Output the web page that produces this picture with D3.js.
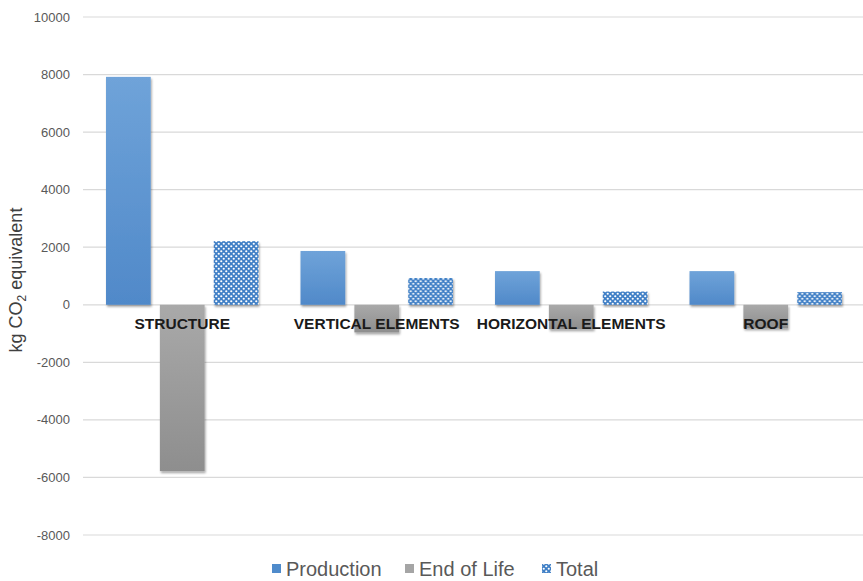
<!DOCTYPE html>
<html>
<head>
<meta charset="utf-8">
<script src="https://cdn.jsdelivr.net/npm/d3@7"></script>
<style>
  body { margin: 0; background: #fff; }
  text { font-family: "Liberation Sans", Arial, sans-serif; }
</style>
</head>
<body>
<svg id="chart" width="863" height="581"></svg>
<script>
const categories = ['STRUCTURE', 'VERTICAL ELEMENTS', 'HORIZONTAL ELEMENTS', 'ROOF'];
const series = ['Production', 'End of Life', 'Total'];
const production = [7920, 1870, 1170, 1170];
const endOfLife = [-5780, -960, -850, -820];
const total = [2210, 930, 460, 440];
const yTicks = [-8000, -6000, -4000, -2000, 0, 2000, 4000, 6000, 8000, 10000];

const width = 863,
    height = 581;
const plotLeft = 85, plotRight = 863, plotTop = 17, plotBottom = 535;

const svg = d3.select('#chart');
const defs = svg.append('defs');

// bar fills
const gBlue = defs.append('linearGradient').attr('id', 'gBlue')
    .attr('x1', 0).attr('y1', 0).attr('x2', 0).attr('y2', 1);
gBlue.append('stop').attr('offset', '0%').attr('stop-color', '#6fa3d9');
gBlue.append('stop').attr('offset', '100%').attr('stop-color', '#5089c9');

const gGray = defs.append('linearGradient').attr('id', 'gGray')
    .attr('x1', 0).attr('y1', 0).attr('x2', 0).attr('y2', 1);
gGray.append('stop').attr('offset', '0%').attr('stop-color', '#a9a9a9');
gGray.append('stop').attr('offset', '100%').attr('stop-color', '#8e8e8e');

const dots = defs.append('pattern').attr('id', 'dots')
    .attr('patternUnits', 'userSpaceOnUse')
    .attr('width', 5).attr('height', 5);
dots.append('rect').attr('width', 5).attr('height', 5).attr('fill', '#3f7fc6');
dots.append('circle').attr('cx', 1.25).attr('cy', 1.25).attr('r', 1.1).attr('fill', '#fff');
dots.append('circle').attr('cx', 3.75).attr('cy', 3.75).attr('r', 1.1).attr('fill', '#fff');

const shadow = defs.append('filter').attr('id', 'shadow')
    .attr('x', '-20%').attr('y', '-20%').attr('width', '140%').attr('height', '140%');
shadow.append('feDropShadow').attr('dx', 1).attr('dy', 2)
    .attr('stdDeviation', 1.2).attr('flood-color', '#000').attr('flood-opacity', 0.35);

const fills = {'Production': 'url(#gBlue)', 'End of Life': 'url(#gGray)', 'Total': 'url(#dots)'};

const x0 = d3.scaleBand().domain(categories).range([plotLeft, plotRight]);
const x1 = d3.scaleBand().domain(series).range([0, x0.bandwidth()])
    .paddingInner(0.17).paddingOuter(0.39);
const y = d3.scaleLinear().domain([-8000, 10000]).range([plotBottom, plotTop]);

// gridlines
svg.append('g')
    .selectAll('line').data(yTicks).join('line')
    .attr('x1', 83).attr('x2', plotRight)
    .attr('y1', d => y(d)).attr('y2', d => y(d))
    .attr('stroke', '#d9d9d9').attr('stroke-width', 1.2);

// y axis labels
svg.append('g')
    .selectAll('text').data(yTicks).join('text')
    .attr('x', 70).attr('y', d => y(d))
    .attr('dy', '0.35em')
    .attr('text-anchor', 'end')
    .attr('font-size', 13)
    .attr('fill', '#595959')
    .text(d => d);

// y axis title
const title = svg.append('text')
    .attr('transform', `translate(22,${(plotTop + plotBottom) / 2 + 4}) rotate(-90)`)
    .attr('text-anchor', 'middle')
    .attr('font-size', 18)
    .attr('fill', '#404040');
title.append('tspan').text('kg CO');
title.append('tspan').attr('font-size', 12).attr('dy', 4).text('2');
title.append('tspan').attr('dy', -4).text(' equivalent');

// bars
const rows = categories.map((c, i) => ({
    cat: c,
    vals: [production[i], endOfLife[i], total[i]]
}));

svg.append('g')
    .selectAll('g').data(rows).join('g')
    .attr('transform', d => `translate(${x0(d.cat)},0)`)
    .selectAll('rect').data(d => d.vals.map((v, j) => ({s: series[j], v})))
    .join('rect')
    .attr('x', d => x1(d.s))
    .attr('width', x1.bandwidth())
    .attr('y', d => y(Math.max(0, d.v)))
    .attr('height', d => Math.abs(y(d.v) - y(0)))
    .attr('fill', d => fills[d.s])
    .attr('filter', 'url(#shadow)');

// category labels (drawn over the bars)
svg.append('g')
    .selectAll('text').data(categories).join('text')
    .attr('x', d => x0(d) + x0.bandwidth() / 2)
    .attr('y', y(0) + 24)
    .attr('text-anchor', 'middle')
    .attr('font-size', 15.5)
    .attr('font-weight', 'bold')
    .attr('fill', '#1a1a1a')
    .text(d => d);

// legend
const legendX = [272, 405, 542];
const legend = svg.append('g');
series.forEach((s, i) => {
    legend.append('rect')
        .attr('x', legendX[i]).attr('y', 564)
        .attr('width', 9).attr('height', 9)
        .attr('fill', s === 'Total' ? 'url(#dots)' : (s === 'Production' ? '#4f8bcb' : '#a5a5a5'));
    legend.append('text')
        .attr('x', legendX[i] + 14).attr('y', 576)
        .attr('font-size', 20)
        .attr('fill', '#595959')
        .text(s);
});
</script>
</body>
</html>
